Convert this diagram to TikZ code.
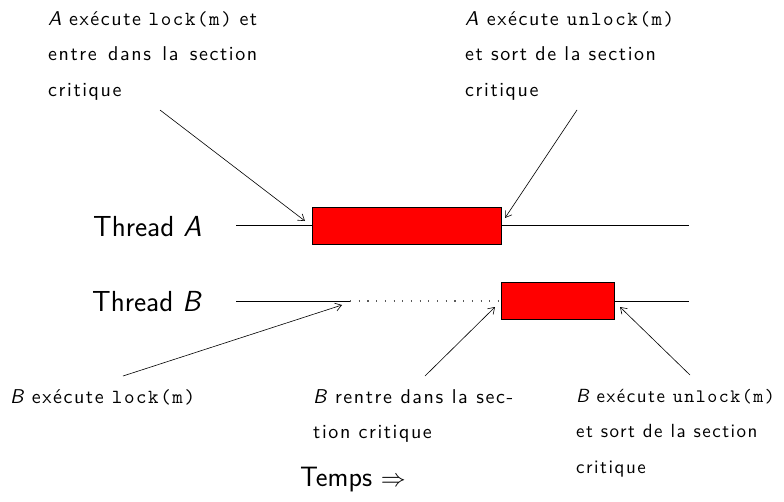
\documentclass[tikz,border=0pt]{standalone}
\usepackage{fontspec}
\usetikzlibrary{arrows.meta}
\newfontfamily\lsf{lmsans10-regular.otf}[LetterSpace=8, ItalicFont=lmsans10-oblique.otf]
\newfontfamily\ltt{lmmono10-regular.otf}[LetterSpace=8]
\newcommand\code[1]{{\ltt #1}}
\begin{document}
\begin{tikzpicture}[x=1pt,y=-1pt,
  lbl/.style={font=\lsf\fontsize{20}{35.5}\selectfont, align=justify, inner sep=0pt, anchor=north west,
    execute at begin node={\rule{0pt}{14pt}}},
  thr/.style={font=\sffamily\fontsize{29}{36}\selectfont, inner sep=0pt, anchor=base west},
  crit/.style={draw=black, fill=red, line width=0.8pt, inner sep=0pt, anchor=north west},
  ptr/.style={-{Straight Barb[length=6pt,width=8pt]}, line width=0.6pt},
  tl/.style={line width=0.8pt},
  wait/.style={line width=1.1pt, draw=black!65, dash pattern=on 1.1pt off 7.6pt}]
\useasboundingbox (0,0) rectangle (784,501);
% labels
\node[lbl, text width=209pt] (la1) at (48,11) {{\itshape A} exécute \code{lock(m)} et\linebreak entre dans la section\linebreak critique};
\node[lbl, align=left] (la2) at (465,11) {{\itshape A} exécute \code{unlock(m)}\\et sort de la section\\critique};
\node[lbl, align=left] (lb1) at (10,389) {{\itshape B} exécute \code{lock(m)}};
\node[lbl, text width=200pt] (lb2) at (313,389) {{\itshape B} rentre dans la sec-\linebreak tion critique};
\node[lbl, align=left, font=\lsf\fontsize{19}{35.5}\selectfont] (lb3) at (576,389) {{\itshape B} exécute \code{unlock(m)}\\et sort de la section\\critique};
\node[thr] (ta) at (93,236) {Thread {\itshape A}};
\node[thr] (tb) at (92,311) {Thread {\itshape B}};
\node[thr, font=\sffamily\fontsize{28}{36}\selectfont] (tps) at (300,486) {Temps $\Rightarrow$};
% critical sections
\node[crit, minimum width=189pt, minimum height=37pt] (ca) at (312,207) {};
\node[crit, minimum width=113pt, minimum height=37pt] (cb) at (501,282) {};
% timelines
\coordinate (a0) at (236,225);
\coordinate (a1) at (689,225);
\coordinate (b0) at (236,301);
\coordinate (bl) at (350,301);
\coordinate (b1) at (689,301);
\draw[tl] (a0) -- (a0 -| ca.west);
\draw[tl] (a1 -| ca.east) -- (a1);
\draw[tl] (b0) -- (bl);
\draw[wait] (bl) -- (bl -| cb.west);
\draw[tl] (b1 -| cb.east) -- (b1);
% pointers
\coordinate (s1) at (160,110);
\coordinate (e1) at (305,221);
\coordinate (s2) at (577,110);
\coordinate (e2) at (505,218);
\coordinate (s3) at (123,376);
\coordinate (e3) at (342,305);
\coordinate (s4) at (425,376);
\coordinate (e4) at (495,307);
\coordinate (s5) at (690,375);
\coordinate (e5) at (620,307);
\draw[ptr] (s1) -- (e1);
\draw[ptr] (s2) -- (e2);
\draw[ptr] (s3) -- (e3);
\draw[ptr] (s4) -- (e4);
\draw[ptr] (s5) -- (e5);
\end{tikzpicture}
\end{document}
